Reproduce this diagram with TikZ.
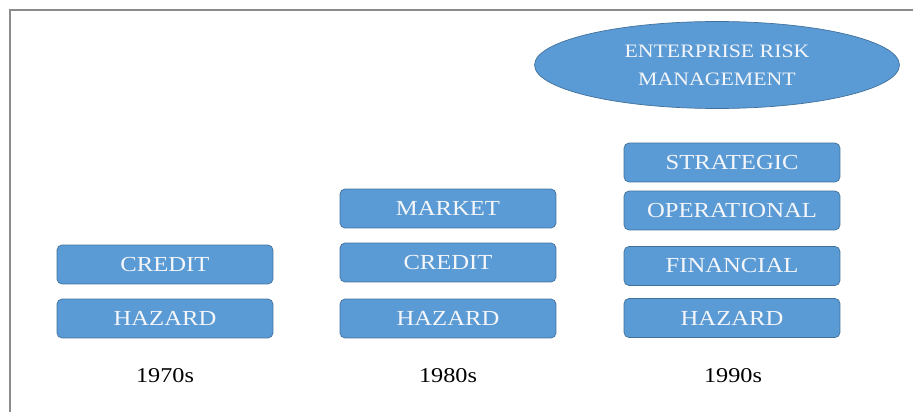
\documentclass[tikz,border=0pt]{standalone}
\usepackage{fontspec}
\setmainfont[FakeStretch=1.15]{Liberation Serif}
\usetikzlibrary{shapes.geometric}
\definecolor{b1}{HTML}{5B9BD5}
\definecolor{b2}{HTML}{41719C}
\definecolor{w}{HTML}{F4F6FA}
\definecolor{g}{HTML}{8C8C8C}
\tikzset{
    risk/.style={draw=b2,fill=b1,text=w,rounded corners=1mm,thin,
        minimum width=4.32cm,minimum height=0.78cm,inner sep=0pt,
        font=\fontsize{12.2}{14}\selectfont},
    erm/.style={ellipse,draw=b2,fill=b1,text=w,thin,align=center,
        minimum width=7.3cm,minimum height=1.74cm,inner sep=0pt,
        font=\fontsize{10.8}{16}\selectfont},
    decade/.style={font=\fontsize{12}{14}\selectfont,inner sep=0pt}
}
\begin{document}
\begin{tikzpicture}[x=0.02cm, y=-0.02cm]
			\useasboundingbox (0,0) rectangle (913,412);
			\draw[g, line width=1.1pt] (10,412) -- (10,10) -- (913,10);
			% 1970s
			\node[risk] (cre70) at (165,264.5) {CREDIT};
			\node[risk] (haz70) at (165,318.5) {HAZARD};
			\node[decade] (y70) at (165,376) {1970s};
			% 1980s
			\node[risk] (mkt80) at (448,208.5) {MARKET};
			\node[risk] (cre80) at (448,262.5) {CREDIT};
			\node[risk] (haz80) at (448,318.5) {HAZARD};
			\node[decade] (y80) at (448,376) {1980s};
			% 1990s
			\node[erm] (erm) at (717,65) {ENTERPRISE RISK\\MANAGEMENT};
			\node[risk] (str90) at (732,162.5) {STRATEGIC};
			\node[risk] (ops90) at (732,210.5) {OPERATIONAL};
			\node[risk] (fin90) at (732,266) {FINANCIAL};
			\node[risk] (haz90) at (732,318) {HAZARD};
			\node[decade] (y90) at (733,376) {1990s};
		\end{tikzpicture}
\end{document}
